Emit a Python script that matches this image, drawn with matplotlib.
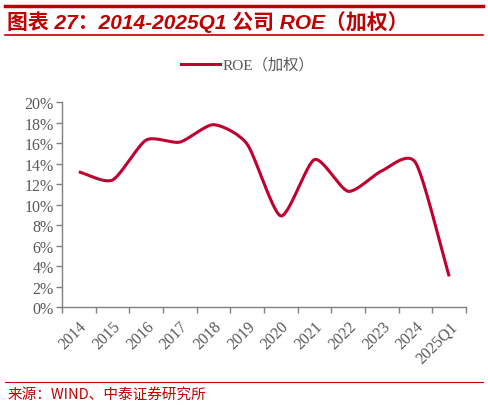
import numpy as np
import matplotlib.pyplot as plt
from matplotlib.lines import Line2D

years = ['2014', '2015', '2016', '2017', '2018', '2019', '2020',
         '2021', '2022', '2023', '2024', '2025Q1']
roe = [13.2, 12.4, 16.3, 16.1, 17.8, 15.9, 8.9, 14.4, 11.3, 13.3, 14.1, 3.0]

red = '#C00000'
line_red = '#C0002F'
grey = '#595959'


def smooth(x, y, n=30, k=0.7):
    # cubic hermite through the points with damped tangents (excel-like smoothing)
    x = np.asarray(x, float)
    y = np.asarray(y, float)
    px = np.concatenate([[2 * x[0] - x[1]], x, [2 * x[-1] - x[-2]]])
    py = np.concatenate([[2 * y[0] - y[1]], y, [2 * y[-1] - y[-2]]])
    xs, ys = [], []
    t = np.linspace(0, 1, n)
    h00 = 2 * t ** 3 - 3 * t ** 2 + 1
    h10 = t ** 3 - 2 * t ** 2 + t
    h01 = -2 * t ** 3 + 3 * t ** 2
    h11 = t ** 3 - t ** 2
    for i in range(1, len(px) - 2):
        for p, out in ((px, xs), (py, ys)):
            m1 = k * 0.5 * (p[i + 1] - p[i - 1])
            m2 = k * 0.5 * (p[i + 2] - p[i])
            out.extend(h00 * p[i] + h10 * m1 + h01 * p[i + 1] + h11 * m2)
    return np.array(xs), np.array(ys)


plt.rcParams['font.family'] = ['Liberation Serif', 'Noto Sans CJK SC']

fig = plt.figure(figsize=(4.88, 4.06), dpi=100)
ax = fig.add_axes([0.127, 0.241, 0.828, 0.505])

x = np.arange(len(years))
sx, sy = smooth(x, roe)
ax.plot(sx, sy, color=line_red, lw=2.2, solid_capstyle='butt')

ax.set_xlim(-0.5, len(years) - 0.5)
ax.set_ylim(0, 20)
ax.set_yticks(range(0, 21, 2))
ax.set_yticklabels([f'{v}%' for v in range(0, 21, 2)])
ax.set_xticks(x)
ax.set_xticklabels(years, rotation=45, ha='right', va='top',
                   rotation_mode='anchor')
ax.set_xticks(np.arange(-0.5, len(years)), minor=True)
ax.tick_params(axis='x', which='major', length=0, pad=8)
ax.tick_params(axis='x', which='minor', length=4, color='#808080', width=1)
ax.tick_params(axis='y', length=4, color='#808080', width=1, pad=2)
ax.tick_params(labelsize=11.5, labelcolor=grey)
for s in ['top', 'right']:
    ax.spines[s].set_visible(False)
for s in ['left', 'bottom']:
    ax.spines[s].set_color('#808080')
    ax.spines[s].set_linewidth(1)

# header and footer
fig.add_artist(Line2D([0.01, 0.99], [0.983, 0.983], color=red, lw=2.5))
fig.add_artist(Line2D([0.01, 0.99], [0.912, 0.912], color=red, lw=1.2))
fig.text(0.015, 0.946, '图表 27：2014-2025Q1 公司 ROE（加权）',
         color=red, fontsize=15, fontweight='bold', style='italic',
         family=['Liberation Sans', 'Noto Sans CJK SC'], va='center')
fig.add_artist(Line2D([0.37, 0.45], [0.839, 0.839], color=line_red, lw=2.2))
fig.text(0.457, 0.839, 'ROE（加权）', color=grey, fontsize=11, va='center')

fig.add_artist(Line2D([0.01, 0.99], [0.057, 0.057], color=red, lw=0.8))
fig.text(0.015, 0.027, '来源：WIND、中泰证券研究所', color=red, fontsize=10.5,
         family=['Noto Sans CJK SC', 'DejaVu Sans'], va='center')

fig.savefig('out.png', dpi=100)
